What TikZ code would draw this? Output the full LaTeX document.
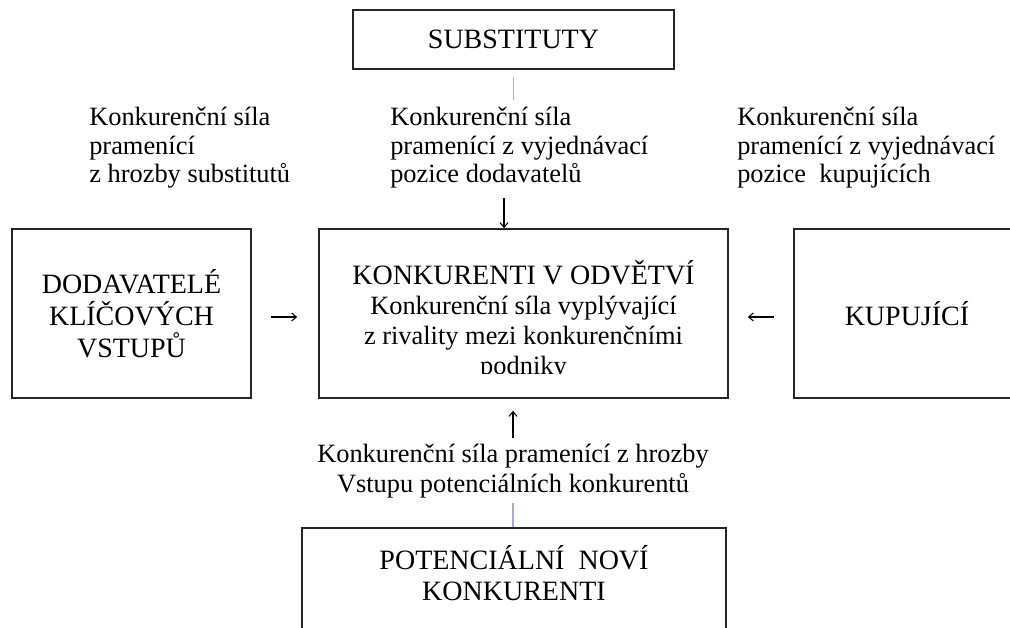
\documentclass[tikz,border=0pt]{standalone}
\usepackage{fontspec}
\setmainfont{Liberation Serif}
\usetikzlibrary{arrows.meta}
\definecolor{lineblue}{HTML}{A3AED6}
\newcommand{\hdfont}{\fontsize{21}{24}\selectfont}
\newcommand{\lbfont}{\fontsize{19.8}{21.4}\selectfont}
\begin{document}
\begin{tikzpicture}[x=0.75pt,y=-0.75pt,
  box/.style={draw=black!85, line width=1.3pt, inner sep=0pt, align=center, font=\hdfont},
  lab/.style={inner sep=0pt, font=\lbfont},
  arr/.style={draw=black, line width=0.8pt, -{Straight Barb[length=3.5pt,width=6pt]}},
  bluelink/.style={draw=lineblue, line width=0.8pt}]
\clip (0,0) rectangle (1010,628);
\fill[white] (0,0) rectangle (1010,628);

% boxes
\node[box, minimum width=240.75pt, minimum height=44.25pt] (sub) at (513.5,39.5) {SUBSTITUTY};
\node[box, minimum width=179.25pt, minimum height=126.75pt] (dod) at (131.5,313.5) {DODAVATELÉ\\KLÍČOVÝCH\\VSTUPŮ};
\node[box, minimum width=306.75pt, minimum height=126.75pt] (cen) at (523.5,313.5) {};
\node[box, minimum width=169.5pt, minimum height=126.75pt] (kup) at (907,313.5) {KUPUJÍCÍ};
\node[box, minimum width=318pt, minimum height=99pt] (pot) at (514,594) {};
\node[lab, align=center, font=\fontsize{21}{23}\selectfont] (potText) at (514,573) {POTENCIÁLNÍ\ \ NOVÍ\\KONKURENTI};

% clipped text of the central box
\begin{scope}
  \clip (319,229) rectangle (728,373);
  \node[lab, align=center, font=\fontsize{19.8}{22.5}\selectfont] (cenText) at (523.5,320.5) {{\fontsize{21}{22.5}\selectfont KONKURENTI V ODVĚTVÍ}\\Konkurenční síla vyplývající\\z rivality mezi konkurenčními\\podniky};
\end{scope}

% labels
\node[lab, align=left, anchor=west] (labL) at (89,148) {Konkurenční síla\\pramenící\\z hrozby substitutů};
\node[lab, align=left, anchor=west] (labC) at (390,148) {Konkurenční síla\\pramenící z vyjednávací\\pozice dodavatelů};
\node[lab, align=left, anchor=west] (labR) at (737,148) {Konkurenční síla\\pramenící z vyjednávací\\pozice\ \ kupujících};
\node[lab, align=center, font=\fontsize{19.8}{22.5}\selectfont] (labB) at (513,471) {Konkurenční síla pramenící z hrozby\\Vstupu potenciálních konkurentů};

% connectors
\coordinate (subEnd) at (513.5,100);
\draw[bluelink, shorten <=5.25pt] (sub.south) -- (subEnd);
\coordinate (dTail) at (504,198);
\draw[arr] (dTail) -- (dTail |- cen.north);
\draw[arr, shorten <=14.25pt, shorten >=15.75pt] ([yshift=-2.6pt]dod.east) -- ([yshift=-2.6pt]cen.west);
\draw[arr, shorten <=14.25pt, shorten >=14.25pt] ([yshift=-2.6pt]kup.west) -- ([yshift=-2.6pt]cen.east);
\coordinate (uTail) at (513,438);
\draw[arr, shorten >=9pt] (uTail) -- (uTail |- cen.south);
\coordinate (bTop) at (513,503);
\draw[bluelink] (pot.north -| bTop) -- (bTop);
\end{tikzpicture}
\end{document}
